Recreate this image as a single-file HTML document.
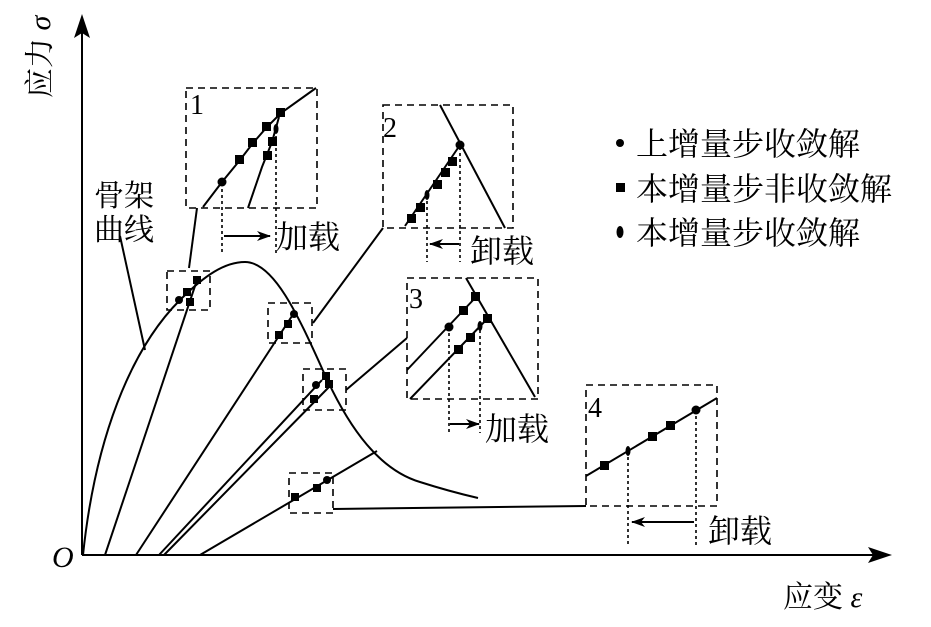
<!DOCTYPE html>
<html><head><meta charset="utf-8"><style>
html,body{margin:0;padding:0;background:#fff;}
svg{display:block;}
text{font-family:"Liberation Serif","Noto Serif CJK SC",serif;fill:#000;}
.cjk{font-family:"Liberation Serif","Noto Serif CJK SC",serif;}
</style></head><body>
<svg width="931" height="627" viewBox="0 0 931 627" xmlns="http://www.w3.org/2000/svg">
<defs>
<marker id="ah" markerWidth="14" markerHeight="10" refX="13" refY="5" orient="auto" markerUnits="userSpaceOnUse"><path d="M0,0 L14,5 L0,10 L4,5 Z" fill="#000"/></marker>
</defs>
<g stroke="#000" stroke-width="2" fill="none">
<line x1="82" y1="555" x2="82" y2="28"/>
<path d="M82,14 L74,38 L82,33 L90,38 Z" fill="#000" stroke="none"/>
<line x1="82" y1="555" x2="878" y2="555"/>
<path d="M892,555 L868,547 L873,555 L868,563 Z" fill="#000" stroke="none"/>
<path d="M83,555 C95,440 130,350 180,300 C205,275 225,262 245,262 C275,262 300,320 325,375 C350,430 380,470 420,482 C445,490 465,495 478,498"/>
<line x1="105" y1="555" x2="197" y2="280"/>
<line x1="136" y1="555" x2="292" y2="316"/>
<line x1="159" y1="555" x2="322" y2="380"/>
<line x1="164" y1="555" x2="329" y2="387"/>
<line x1="200" y1="555" x2="377" y2="451"/>
<line x1="120" y1="236" x2="145" y2="350"/>
<line x1="197" y1="208" x2="189" y2="268"/>
<line x1="313" y1="323" x2="383" y2="228"/>
<line x1="346" y1="390" x2="407" y2="338"/>
<line x1="333" y1="509" x2="586" y2="506"/>
</g>
<g stroke="#000" stroke-width="1.6" fill="none" stroke-dasharray="7,5">
<rect x="167" y="271" width="43" height="39"/>
<rect x="186" y="88" width="131" height="120"/>
<rect x="268" y="303" width="44" height="40"/>
<rect x="383" y="105" width="130" height="123"/>
<rect x="303" y="369" width="43" height="41"/>
<rect x="407" y="278" width="131" height="121"/>
<rect x="289" y="473" width="44" height="40"/>
<rect x="586" y="385" width="131" height="121"/>
</g>
<g fill="#000">
<circle cx="179" cy="300" r="4"/><rect x="183" y="288" width="8" height="8"/><rect x="193" y="276" width="8" height="8"/><rect x="186" y="298" width="8" height="8"/>
<circle cx="294" cy="314" r="4"/><rect x="284" y="320" width="8" height="8"/><rect x="275" y="331" width="8" height="8"/>
<circle cx="316" cy="385" r="4"/><rect x="322" y="372" width="8" height="8"/><rect x="325" y="380" width="8" height="8"/><rect x="310" y="395" width="8" height="8"/>
<circle cx="327" cy="480" r="4"/><rect x="313" y="484" width="8" height="8"/><rect x="291" y="493" width="8" height="8"/>
</g>
<g stroke="#000" stroke-width="2" fill="none">
<polyline points="203,207 222,182 240,160 253,143 267,127 281,113 316,88"/>
<polyline points="248,208 262,167 272,142 279,117"/>
</g>
<g stroke="#000" stroke-width="1.6" stroke-dasharray="3,3" fill="none">
<line x1="222" y1="183" x2="222" y2="255"/>
<line x1="276" y1="130" x2="276" y2="255"/>
</g>
<line x1="224" y1="236" x2="270" y2="236" stroke="#000" stroke-width="2" marker-end="url(#ah)"/>
<g fill="#000">
<circle cx="222" cy="182" r="4.5"/><rect x="235" y="155" width="9" height="9"/><rect x="248" y="138" width="9" height="9"/><rect x="262" y="122" width="9" height="9"/><rect x="276" y="108" width="9" height="9"/><rect x="268" y="137" width="9" height="9"/><rect x="263" y="151" width="9" height="9"/>
<ellipse cx="276" cy="129" rx="2.5" ry="5"/>
</g>
<text x="190" y="114" font-size="28">1</text>
<text x="276" y="248" font-size="32" class="cjk">加载</text>
<g stroke="#000" stroke-width="2" fill="none">
<line x1="405" y1="226" x2="460" y2="145"/>
<line x1="440" y1="105" x2="505" y2="228"/>
</g>
<g stroke="#000" stroke-width="1.6" stroke-dasharray="3,3" fill="none">
<line x1="427" y1="195" x2="427" y2="262"/>
<line x1="460" y1="147" x2="460" y2="262"/>
</g>
<line x1="459" y1="244" x2="430" y2="244" stroke="#000" stroke-width="2" marker-end="url(#ah)"/>
<g fill="#000">
<circle cx="460" cy="145" r="4.5"/><rect x="448" y="157" width="9" height="9"/><rect x="441" y="168" width="9" height="9"/><rect x="433" y="180" width="9" height="9"/><ellipse cx="427" cy="195" rx="2.5" ry="5"/><rect x="416" y="203" width="9" height="9"/><rect x="407" y="214" width="9" height="9"/>
</g>
<text x="383" y="137" font-size="28">2</text>
<text x="470" y="262" font-size="32" class="cjk">卸载</text>
<g stroke="#000" stroke-width="2" fill="none">
<line x1="407" y1="370" x2="476" y2="297"/>
<line x1="466" y1="278" x2="535" y2="397"/>
<line x1="410" y1="399" x2="488" y2="318"/>
</g>
<g stroke="#000" stroke-width="1.6" stroke-dasharray="3,3" fill="none">
<line x1="449" y1="327" x2="449" y2="433"/>
<line x1="480" y1="324" x2="480" y2="433"/>
</g>
<line x1="450" y1="424" x2="479" y2="424" stroke="#000" stroke-width="2" marker-end="url(#ah)"/>
<g fill="#000">
<circle cx="449" cy="327" r="4.5"/><rect x="459" y="306" width="9" height="9"/><rect x="471" y="292" width="9" height="9"/><rect x="483" y="314" width="9" height="9"/><ellipse cx="480" cy="326" rx="2.5" ry="5"/><rect x="466" y="333" width="9" height="9"/><rect x="454" y="345" width="9" height="9"/>
</g>
<text x="409" y="308" font-size="28">3</text>
<text x="485" y="440" font-size="32" class="cjk">加载</text>
<line x1="586" y1="476" x2="717" y2="398" stroke="#000" stroke-width="2"/>
<g stroke="#000" stroke-width="1.6" stroke-dasharray="3,3" fill="none">
<line x1="628" y1="451" x2="628" y2="545"/>
<line x1="696" y1="410" x2="696" y2="545"/>
</g>
<line x1="694" y1="522" x2="632" y2="522" stroke="#000" stroke-width="2" marker-end="url(#ah)"/>
<g fill="#000">
<circle cx="696" cy="410" r="4.5"/><rect x="666" y="421" width="9" height="9"/><rect x="648" y="432" width="9" height="9"/><ellipse cx="628" cy="451" rx="2.5" ry="5"/><rect x="600" y="461" width="9" height="9"/>
</g>
<text x="588" y="417" font-size="28">4</text>
<text x="708" y="542" font-size="32" class="cjk">卸载</text>
<g fill="#000">
<circle cx="620" cy="143" r="4"/>
<rect x="616" y="183" width="9" height="9"/>
<ellipse cx="620" cy="232" rx="3.5" ry="6"/>
</g>
<text x="636" y="155" font-size="32" class="cjk">上增量步收敛解</text>
<text x="636" y="200" font-size="32" class="cjk">本增量步非收敛解</text>
<text x="636" y="244" font-size="32" class="cjk">本增量步收敛解</text>
<text x="94" y="206" font-size="30" class="cjk">骨架</text>
<text x="94" y="240" font-size="30" class="cjk">曲线</text>
<text x="52" y="567" font-size="30" font-style="italic">O</text>
<text transform="translate(50,98) rotate(-90)" font-size="30" class="cjk">应力 <tspan font-family="Liberation Serif" font-style="italic">σ</tspan></text>
<text x="783" y="607" font-size="30" class="cjk">应变 <tspan font-family="Liberation Serif" font-style="italic">ε</tspan></text>
</svg>
</body></html>
